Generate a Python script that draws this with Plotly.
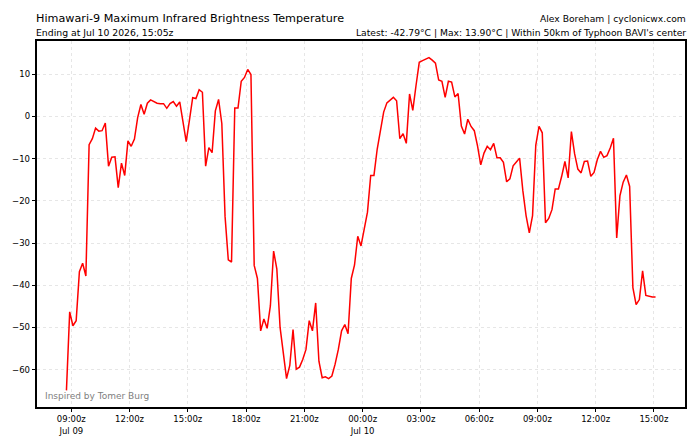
import pandas as pd
import plotly.graph_objects as go

# ---- data ----
start_time = "2026-07-09 08:45"
step = "10min"
temps = [
    -64.9, -46.3, -49.6, -48.4, -36.8, -34.8, -37.8, -6.7, -5.3, -2.8,
    -3.5, -3.4, -1.6, -11.8, -9.7, -9.6, -16.9, -11.1, -14.0, -5.8,
    -7.1, -5.4, -0.3, 2.8, 0.5, 3.1, 3.9, 3.4, 3.1, 3.0,
    3.0, 1.9, 3.0, 3.5, 2.4, 3.4, -1.3, -6.0, -0.9, 4.4,
    4.2, 6.3, 5.7, -11.8, -7.4, -8.6, 1.3, 4.0, -1.7, -23.7,
    -34.0, -34.5, 2.0, 2.0, 8.3, 9.2, 11.1, 9.9, -35.3, -38.4,
    -50.8, -48.0, -50.2, -44.9, -31.9, -36.2, -50.0, -55.8, -62.1, -59.0,
    -50.5, -59.9, -59.4, -57.6, -55.2, -48.4, -50.8, -44.2, -58.0, -61.9,
    -61.7, -62.1, -61.5, -58.7, -55.2, -50.8, -49.3, -51.5, -38.4, -35.2,
    -28.4, -30.7, -27.0, -22.7, -14.0, -14.0, -7.8, -3.5, 1.0, 3.2,
    3.8, 4.5, 3.7, -5.3, -4.1, -6.4, 5.3, 1.4, 7.3, 12.8,
    13.2, 13.5, 13.9, 13.3, 12.6, 8.6, 8.3, 4.5, 8.3, 8.1,
    4.6, 5.4, -2.3, -4.2, -0.7, -2.4, -3.4, -7.0, -11.5, -8.7,
    -7.1, -7.9, -6.4, -9.8, -9.8, -10.9, -15.5, -14.8, -11.7, -10.8,
    -9.9, -17.6, -23.5, -27.6, -23.5, -6.8, -2.4, -3.9, -25.2, -24.2,
    -22.1, -17.2, -17.2, -14.2, -10.7, -14.6, -3.6, -8.9, -12.5, -13.4,
    -10.7, -10.6, -14.2, -13.3, -10.3, -8.3, -9.7, -9.3, -7.5, -5.2,
    -28.8, -18.8, -15.6, -13.9, -16.6, -40.6, -44.6, -43.4, -36.6, -42.4,
    -42.6, -42.8, -42.79,
]
x_tick_vals = [
    "2026-07-09 09:00", "2026-07-09 12:00", "2026-07-09 15:00", "2026-07-09 18:00",
    "2026-07-09 21:00", "2026-07-10 00:00", "2026-07-10 03:00", "2026-07-10 06:00",
    "2026-07-10 09:00", "2026-07-10 12:00", "2026-07-10 15:00",
]
x_tick_text = [
    "09:00z<br>Jul 09", "12:00z", "15:00z", "18:00z", "21:00z", "00:00z<br>Jul 10",
    "03:00z", "06:00z", "09:00z", "12:00z", "15:00z",
]
y_tick_vals = [-60, -50, -40, -30, -20, -10, 0, 10]

title_text = "Himawari-9 Maximum Infrared Brightness Temperature"
subtitle_text = "Ending at Jul 10 2026, 15:05z"
credit_text = "Alex Boreham | cyclonicwx.com"
info_text = "Latest: -42.79°C | Max: 13.90°C | Within 50km of Typhoon BAVI's center"
inspired_text = "Inspired by Tomer Burg"

times = pd.date_range(start=start_time, periods=len(temps), freq=step)

# matplotlib-like 5% margins
t0, t1 = times[0], times[-1]
tpad = (t1 - t0) * 0.05
ymin, ymax = min(temps), max(temps)
ypad = (ymax - ymin) * 0.05

FONT = "DejaVu Sans"

fig = go.Figure()
fig.add_trace(go.Scatter(
    x=times, y=temps, mode="lines",
    line=dict(color="#ff0000", width=1.5),
    hoverinfo="skip", showlegend=False,
))

axis_common = dict(
    showline=True, mirror=True, linecolor="black", linewidth=1.5,
    ticks="outside", ticklen=3.5, tickwidth=1, tickcolor="black",
    showgrid=True, gridcolor="#e6e6e6", griddash="dot", gridwidth=1,
    zeroline=False, tickfont=dict(family=FONT, size=8.5, color="black"),
)

fig.update_layout(
    width=699, height=448,
    margin=dict(l=36, r=12, t=41, b=37),
    paper_bgcolor="white", plot_bgcolor="white",
    font=dict(family=FONT, color="black"),
    xaxis=dict(
        type="date", range=[t0 - tpad, t1 + tpad],
        tickmode="array", tickvals=x_tick_vals, ticktext=x_tick_text,
        **axis_common,
    ),
    yaxis=dict(
        range=[ymin - ypad, ymax + ypad],
        tickmode="array", tickvals=y_tick_vals,
        **axis_common,
    ),
    annotations=[
        dict(text=title_text, xref="paper", yref="paper", x=-0.005, y=1.0625,
             xanchor="left", yanchor="middle", showarrow=False,
             font=dict(family=FONT, size=11.2, color="black")),
        dict(text=subtitle_text, xref="paper", yref="paper", x=-0.005, y=1.024,
             xanchor="left", yanchor="middle", showarrow=False,
             font=dict(family=FONT, size=9.3, color="black")),
        dict(text=credit_text, xref="paper", yref="paper", x=1.005, y=1.0625,
             xanchor="right", yanchor="middle", showarrow=False,
             font=dict(family=FONT, size=9.2, color="black")),
        dict(text=info_text, xref="paper", yref="paper", x=1.005, y=1.024,
             xanchor="right", yanchor="middle", showarrow=False,
             font=dict(family=FONT, size=9.2, color="black")),
        dict(text=inspired_text, xref="paper", yref="paper", x=0.0085, y=0.03,
             xanchor="left", yanchor="middle", showarrow=False,
             font=dict(family=FONT, size=9, color="#808080")),
    ],
)

fig.write_html("out.html")
